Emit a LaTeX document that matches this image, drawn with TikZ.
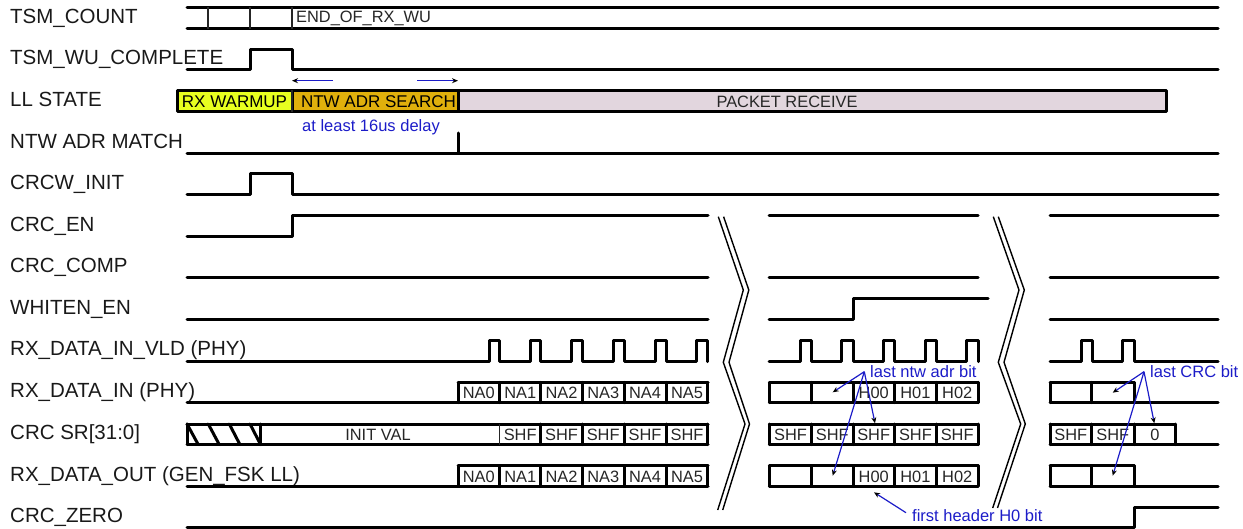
\documentclass[tikz,border=0pt]{standalone}
\usepackage{fontspec}
\setmainfont{Liberation Sans}
\usetikzlibrary{arrows.meta}
\definecolor{wyellow}{HTML}{E8FF20}
\definecolor{wgold}{HTML}{E0B00C}
\definecolor{wpink}{HTML}{E2D6DE}
\definecolor{nblue}{HTML}{1C1CC8}
\newcommand{\cellrow}[3]{% top, bottom, list of x
  \foreach \cx [count=\ci] in {#3}{\draw[sig] (\cx,#1) -- (\cx,#2);}
}
\tikzset{
  sig/.style={line width=3pt,line join=round,line cap=round,black},
  thinline/.style={line width=1.3pt,black!85},
  brk/.style={line width=1.4pt,black,line join=miter},
  lbl/.style={anchor=base west,inner sep=0pt,text=black!90,font=\fontsize{20.5}{24}\selectfont},
  cell/.style={inner sep=0pt,text=black!85,font=\fontsize{16.4}{19}\selectfont},
  state/.style={inner sep=0pt,font=\fontsize{17}{20}\selectfont},
  note/.style={inner sep=0pt,text=nblue,font=\fontsize{16.5}{19}\selectfont},
  ann/.style={line width=1.2pt,nblue,-{Stealth[length=6pt,width=5pt,black]}},
}
\begin{document}
\begin{tikzpicture}[x=1pt,y=-1pt]
\useasboundingbox (0,0) rectangle (1243,529);
% labels
\foreach \nm/\yy/\tx in {a/24/TSM\_COUNT,b/65/TSM\_WU\_COMPLETE,c/106.7/LL STATE,d/148.5/NTW ADR MATCH,e/190/CRCW\_INIT,f/231.5/CRC\_EN,g/273/CRC\_COMP,h/314.5/WHITEN\_EN,i/356/RX\_DATA\_IN\_VLD (PHY),j/397.5/RX\_DATA\_IN (PHY),k/439.5/CRC SR[31:0],l/481/RX\_DATA\_OUT (GEN\_FSK LL),m/522.5/CRC\_ZERO}
  {\node[lbl] (lab\nm) at (10,\yy) {\tx};}
% TSM_COUNT
\draw[sig] (187,7.5) -- (1218,7.5);
\draw[sig] (187,29) -- (1218,29);
\foreach \x in {208,250,292} \draw[thinline] (\x,7.5) -- (\x,29);
\node[cell,anchor=west] (endrx) at (296,18.5) {END\_OF\_RX\_WU};
% TSM_WU_COMPLETE
\draw[sig] (187,70) -- (250,70) -- (250,50) -- (292,50) -- (292,70) -- (1218,70);
% LL STATE
\draw[sig,fill=wyellow] (177,90.5) rectangle (292,112);
\draw[sig,fill=wgold] (292,90.5) rectangle (458,112);
\draw[sig,fill=wpink] (458,90.5) rectangle (1166,112);
\draw[thinline] (292,90.5) -- (292,112);
\node[state] (s1) at (234.5,101.5) {RX WARMUP};
\node[state] (s2) at (378.5,101.5) {NTW ADR SEARCH};
\node[cell] (s3) at (787,101.5) {PACKET RECEIVE};
\coordinate (al) at (333,80.7); \coordinate (ale) at (292,80.7);
\coordinate (ar) at (417,80.7); \coordinate (are) at (458,80.7);
\draw[ann] (al) -- (ale);
\draw[ann] (ar) -- (are);
\node[note] (delay) at (371,127.5) {at least 16us delay};
% NTW ADR MATCH
\draw[sig] (187,153.5) -- (1218,153.5);
\draw[sig] (458,133) -- (458,153.5);
% CRCW_INIT
\draw[sig] (187,194.5) -- (250,194.5) -- (250,174) -- (292,174) -- (292,194.5) -- (1218,194.5);
% CRC_EN
\draw[sig] (187,236.5) -- (292,236.5) -- (292,216) -- (708,216);
\draw[sig] (769,216) -- (978,216);
\draw[sig] (1050,216) -- (1218,216);
% CRC_COMP
\draw[sig] (187,278) -- (708,278);
\draw[sig] (769,278) -- (978,278);
\draw[sig] (1050,278) -- (1218,278);
% WHITEN_EN
\draw[sig] (187,319.5) -- (708,319.5);
\draw[sig] (769,319.5) -- (853,319.5) -- (853,299) -- (988,299);
\draw[sig] (1050,319.5) -- (1218,319.5);
% RX_DATA_IN_VLD
\draw[sig] (187,361.7) -- (489.3,361.7) -- (489.3,341) -- (499.5,341) -- (499.5,361.7)
  -- (530,361.7) -- (530,341) -- (540.8,341) -- (540.8,361.7)
  -- (571.7,361.7) -- (571.7,341) -- (582.3,341) -- (582.3,361.7)
  -- (613,361.7) -- (613,341) -- (624,341) -- (624,361.7)
  -- (655,361.7) -- (655,341) -- (666,341) -- (666,361.7)
  -- (696.7,361.7) -- (696.7,341) -- (707.7,341) -- (707.7,361.7);
\draw[sig] (769,361.7) -- (800,361.7) -- (800,341) -- (811.7,341) -- (811.7,361.7)
  -- (841.7,361.7) -- (841.7,341) -- (853,341) -- (853,361.7)
  -- (883,361.7) -- (883,341) -- (894.3,341) -- (894.3,361.7)
  -- (925,361.7) -- (925,341) -- (936.5,341) -- (936.5,361.7)
  -- (966.7,361.7) -- (966.7,341) -- (978,341) -- (978,361.7);
\draw[sig] (1050,361.7) -- (1081,361.7) -- (1081,341) -- (1092.7,341) -- (1092.7,361.7)
  -- (1122.7,361.7) -- (1122.7,341) -- (1134,341) -- (1134,361.7) -- (1218,361.7);
% RX_DATA_IN
\draw[sig] (187,402.7) -- (458,402.7);
\draw[sig] (458,382.3) -- (708,382.3);
\draw[sig] (458,402.7) -- (708,402.7);
\cellrow{382.3}{402.7}{458,499.5,540.8,582.3,624,666,707.7}
\draw[sig] (769.3,382.3) -- (978,382.3);
\draw[sig] (769.3,402.7) -- (978,402.7);
\cellrow{382.3}{402.7}{769.3,811.7,853,894.3,936.5,978}
\draw[sig] (1050,382.3) -- (1134,382.3);
\draw[sig] (1050,402.7) -- (1218,402.7);
\cellrow{382.3}{402.7}{1050,1091.7,1134}
\foreach \nm/\xx/\tx in {a/478.7/NA0,b/520.2/NA1,c/561.5/NA2,d/603.2/NA3,e/645/NA4,f/687/NA5}
  {\node[cell] (in\nm) at (\xx,393) {\tx}; \node[cell] (out\nm) at (\xx,476.5) {\tx};}
\foreach \nm/\xx/\tx in {a/873.7/H00,b/915.4/H01,c/957.2/H02}
  {\node[cell] (inh\nm) at (\xx,393) {\tx}; \node[cell] (outh\nm) at (\xx,476.5) {\tx};}
% CRC SR
\draw[sig] (187,424) -- (708,424);
\draw[sig] (187,444.7) -- (708,444.7);
\draw[sig] (187,424) -- (187,444.7);
\draw[sig] (260.7,424) -- (260.7,444.7);
\draw[sig] (187,424) -- (198.3,444.7);
\draw[sig] (208.3,424) -- (219.3,444.7);
\draw[sig] (229.3,424) -- (240,444.7);
\draw[sig] (250,424) -- (260.7,444.7);
\draw[thinline] (499.5,424) -- (499.5,444.7);
\cellrow{424}{444.7}{540.8,582.3,624,666,707.7}
\node[cell] (initv) at (378,435) {INIT VAL};
\foreach \nm/\xx in {a/520.2,b/561.5,c/603.2,d/645,e/687}
  {\node[cell] (sa\nm) at (\xx,435) {SHF};}
\draw[sig] (769.3,424) -- (978,424);
\draw[sig] (769.3,444.7) -- (978,444.7);
\cellrow{424}{444.7}{769.3,811.7,853,894.3,936.5,978}
\foreach \nm/\xx in {a/790.5,b/832.3,c/873.7,d/915.4,e/957.2}
  {\node[cell] (sb\nm) at (\xx,435) {SHF};}
\draw[sig] (1050,424) -- (1175.7,424);
\draw[sig] (1050,444.7) -- (1218,444.7);
\cellrow{424}{444.7}{1050,1091.7,1134,1175.7}
\node[cell] (sc1) at (1070.8,435) {SHF};
\node[cell] (sc2) at (1112.8,435) {SHF};
\node[cell] (sc3) at (1155,435) {0};
% RX_DATA_OUT
\draw[sig] (187,486) -- (458,486);
\draw[sig] (458,465.7) -- (708,465.7);
\draw[sig] (458,486) -- (708,486);
\cellrow{465.7}{486}{458,499.5,540.8,582.3,624,666,707.7}
\draw[sig] (769.3,465.7) -- (978,465.7);
\draw[sig] (769.3,486) -- (978,486);
\cellrow{465.7}{486}{769.3,811.7,853,894.3,936.5,978}
\draw[sig] (1050,465.7) -- (1134,465.7);
\draw[sig] (1050,486) -- (1218,486);
\cellrow{465.7}{486}{1050,1091.7,1134}
% CRC_ZERO
\draw[sig] (187,527.3) -- (1134.3,527.3) -- (1134.3,507.3) -- (1218,507.3);
% break symbols
\draw[brk] (718.3,216.7) -- (743.3,290) -- (723.3,362.3) -- (745,424) -- (717.7,510);
\draw[brk] (723.6,216.7) -- (748.8,290) -- (729,362.3) -- (749.5,424) -- (722.7,510);
\draw[brk] (993.3,216.7) -- (1019,290) -- (998.3,362.3) -- (1020.7,424) -- (992.7,508);
\draw[brk] (998.3,216.7) -- (1024.3,290) -- (1004,362.3) -- (1025.3,424) -- (997.5,508);
% annotations
\node[note,anchor=west] (lastntw) at (870,372) {last ntw adr bit};
\coordinate (ntwapex) at (864.3,371.7);
\coordinate (n1) at (832.7,392.3); \coordinate (n2) at (875,423.3); \coordinate (n3) at (832.7,475.7);
\draw[ann] (ntwapex) -- (n1);
\draw[ann] (ntwapex) -- (n2);
\draw[ann] (ntwapex) -- (n3);
\node[note,anchor=west] (firsth) at (912,516) {first header H0 bit};
\coordinate (fh) at (906,512.7); \coordinate (fhe) at (874,492.3);
\draw[ann] (fh) -- (fhe);
\node[note,anchor=west] (lastcrc) at (1150,372) {last CRC bit};
\coordinate (crcapex) at (1144,371.7);
\coordinate (c1) at (1112.7,392.7); \coordinate (c2) at (1154.3,423.3); \coordinate (c3) at (1112.7,475.7);
\draw[ann] (crcapex) -- (c1);
\draw[ann] (crcapex) -- (c2);
\draw[ann] (crcapex) -- (c3);
\end{tikzpicture}
\end{document}
